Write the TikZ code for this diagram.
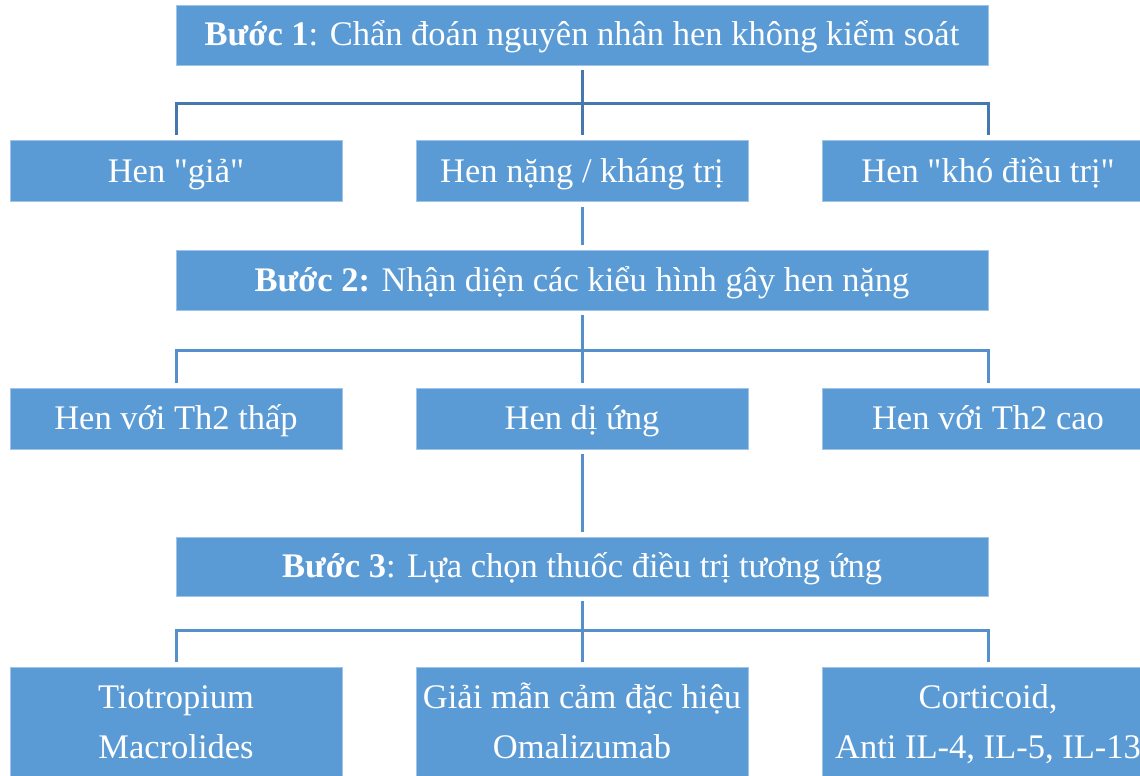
\documentclass[tikz,border=0pt]{standalone}
\usepackage{fontspec}
\setmainfont{Liberation Serif}
\usepackage{xcolor}
\definecolor{boxblue}{HTML}{5B9BD5}
\definecolor{boxedge}{HTML}{9FC4E8}
\definecolor{connA}{HTML}{4677AD}
\definecolor{connB}{HTML}{5590CA}
\begin{document}
\begin{tikzpicture}[x=1pt,y=-1pt,
  box/.style={fill=boxblue,draw=boxedge,line width=0.8pt,inner sep=0pt,
    text=white,font=\fontsize{34.5}{50}\selectfont,
    text height=22pt,text depth=0pt,minimum width=332pt,minimum height=61pt},
  wide/.style={box,minimum width=812pt,minimum height=60pt},
  tall/.style={box,minimum height=130pt,text height=0pt,text depth=48pt},
  conn/.style={line width=3pt},
  connA/.style={conn,draw=connA},
  connB/.style={conn,draw=connB}]
\useasboundingbox (0,0) rectangle (1140,776);
\begin{scope}
\clip (0,0) rectangle (1140,776);
% Step 1
\node[wide] (b1) at (582,35) {\textbf{Bước 1}: Chẩn đoán nguyên nhân hen không kiểm soát};
\node[box] (l2) at (176,171) {Hen \textquotedbl giả\textquotedbl};
\node[box] (m2) at (582,171) {Hen nặng / kháng trị};
\node[box] (r2) at (988,171) {Hen \textquotedbl khó điều trị\textquotedbl};
% Step 2
\node[wide] (b2) at (582,280) {\textbf{Bước 2:} Nhận diện các kiểu hình gây hen nặng};
\node[box] (l3) at (176,418.5) {Hen với Th2 thấp};
\node[box] (m3) at (582,418.5) {Hen dị ứng};
\node[box] (r3) at (988,418.5) {Hen với Th2 cao};
% Step 3
\node[wide,minimum height=59pt] (b3) at (582,566.5) {\textbf{Bước 3}: Lựa chọn thuốc điều trị tương ứng};
\node[tall] (l4) at (176,732) {\begin{tabular}[t]{@{}c@{}}Tiotropium\\Macrolides\end{tabular}};
\node[tall] (m4) at (582,732) {\begin{tabular}[t]{@{}c@{}}Giải mẫn cảm đặc hiệu\\Omalizumab\end{tabular}};
\node[tall] (r4) at (988,732) {\begin{tabular}[t]{@{}c@{}}Corticoid,\\Anti IL-4, IL-5, IL-13\end{tabular}};
% junctions
\coordinate (j1) at (582,103);
\coordinate (j2) at (582,350);
\coordinate (j3) at (582,630);
% connectors level 1
\draw[connA] ([yshift=-5pt]b1.south) -- ([yshift=5pt]m2.north);
\draw[connA] ([yshift=5pt]l2.north) |- (j1) -| ([yshift=5pt]r2.north);
\draw[connB] ([yshift=-5pt]m2.south) -- ([yshift=5pt]b2.north);
% level 2
\draw[connB] ([yshift=-5pt]b2.south) -- ([yshift=5pt]m3.north);
\draw[connB] ([yshift=5pt]l3.north) |- (j2) -| ([yshift=5pt]r3.north);
\draw[connB] ([yshift=-5pt]m3.south) -- ([yshift=5pt]b3.north);
% level 3
\draw[connB] ([yshift=-5pt]b3.south) -- ([yshift=5pt]m4.north);
\draw[connB] ([yshift=5pt]l4.north) |- (j3) -| ([yshift=5pt]r4.north);
\end{scope}
\end{tikzpicture}
\end{document}
